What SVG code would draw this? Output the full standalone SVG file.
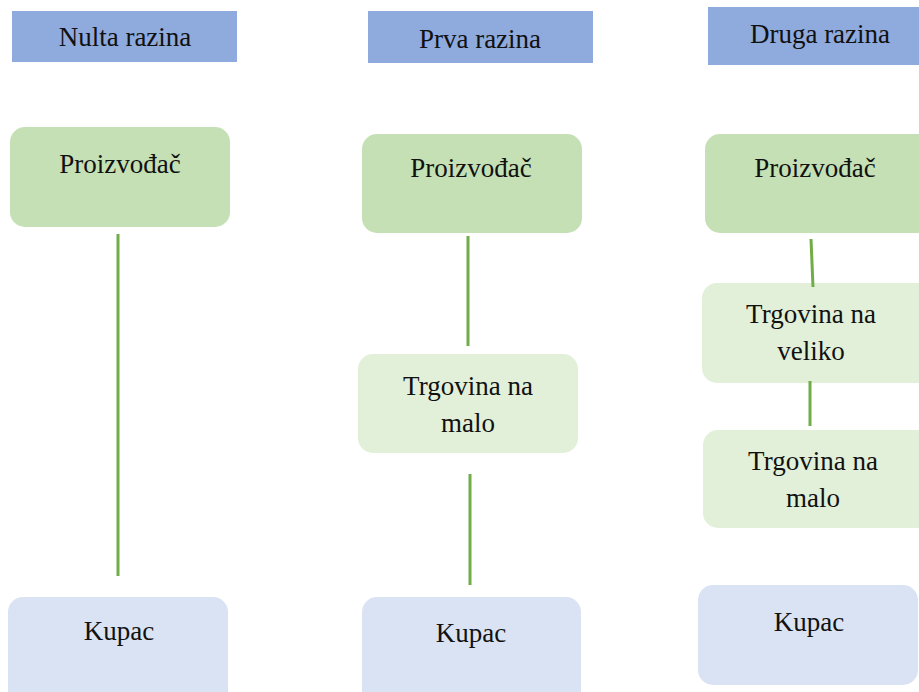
<svg xmlns="http://www.w3.org/2000/svg" width="919" height="692" viewBox="0 0 919 692">
<style>
text{font-family:"Liberation Serif","Times New Roman",serif;font-size:27px;fill:#111;text-anchor:middle}
.hdr{fill:#8faadc}
.prod{fill:#c5e0b4}
.mid{fill:#e2f0d9}
.cust{fill:#dae3f3}
.conn line{stroke:#70ad47;stroke-width:3}
</style>
<rect width="919" height="692" fill="#fff"/>
<g id="h1"><rect class="hdr" x="12" y="11" width="225" height="51"/><text x="125" y="46">Nulta razina</text></g>
<g id="h2"><rect class="hdr" x="368" y="11" width="225" height="52"/><text x="480" y="48">Prva razina</text></g>
<g id="h3"><rect class="hdr" x="708" y="7" width="215" height="58"/><text x="820" y="43">Druga razina</text></g>

<g id="p1"><rect class="prod" x="10" y="127" width="220" height="100" rx="15"/><text x="120" y="173">Proizvođač</text></g>
<g id="p2"><rect class="prod" x="362" y="134" width="220" height="99" rx="15"/><text x="471" y="177">Proizvođač</text></g>
<g id="p3"><rect class="prod" x="705" y="134" width="230" height="99" rx="15"/><text x="815" y="177">Proizvođač</text></g>

<g id="m2"><rect class="mid" x="358" y="354" width="220" height="99" rx="15"/><text x="468" y="395">Trgovina na</text><text x="468" y="432">malo</text></g>
<g id="w3"><rect class="mid" x="702" y="283" width="230" height="100" rx="15"/><text x="811" y="323">Trgovina na</text><text x="811" y="360">veliko</text></g>
<g id="r3"><rect class="mid" x="703" y="430" width="230" height="98" rx="15"/><text x="813" y="470">Trgovina na</text><text x="813" y="507">malo</text></g>

<g id="k1"><rect class="cust" x="8" y="597" width="220" height="110" rx="15"/><text x="119" y="640">Kupac</text></g>
<g id="k2"><rect class="cust" x="362" y="597" width="219" height="110" rx="15"/><text x="471" y="642">Kupac</text></g>
<g id="k3"><rect class="cust" x="698" y="585" width="220" height="100" rx="15"/><text x="809" y="631">Kupac</text></g>

<g id="connectors" class="conn">
<line x1="118" y1="234" x2="118" y2="576"/>
<line x1="468" y1="236" x2="468" y2="346"/>
<line x1="470" y1="474" x2="470" y2="585"/>
<line x1="811" y1="239" x2="813" y2="287"/>
<line x1="810" y1="381" x2="810" y2="426"/>
</g>
</svg>
